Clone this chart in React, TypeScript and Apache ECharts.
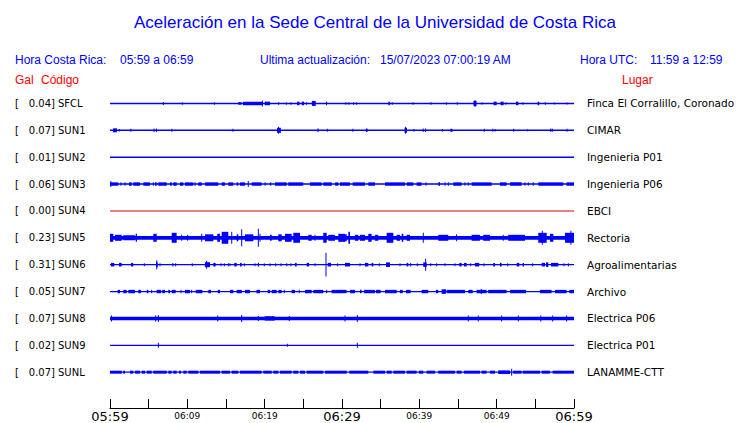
import React, { useEffect, useRef } from "react";
import * as echarts from "echarts";

const stations = ["SFCL", "SUN1", "SUN2", "SUN3", "SUN4", "SUN5", "SUN6", "SUN7", "SUN8", "SUN9", "SUNL"];
const galValues = [0.04, 0.07, 0.01, 0.06, 0.0, 0.23, 0.31, 0.05, 0.07, 0.02, 0.07];
const places = [
  "Finca El Corralillo, Coronado", "CIMAR", "Ingenieria P01", "Ingenieria P06", "EBCI", "Rectoria",
  "Agroalimentarias", "Archivo", "Electrica P06", "Electrica P01", "LANAMME-CTT",
];
// half-thickness of continuous trace (counts)
const baseAmp = [0.7, 0.7, 0.7, 0.7, 0.5, 1.9, 0.7, 0.6, 1.8, 0.6, 0.6];
// default half-height of bursts (counts)
const burstAmp = [1.3, 1.5, 1, 1.7, 1, 3, 1.8, 1.7, 3, 1.5, 1.5];
const traceColors = ["#0000ff", "#0000ff", "#0000ff", "#0000ff", "#dd0000", "#0000ff", "#0000ff", "#0000ff", "#0000ff", "#0000ff", "#0000ff"];

// minutes after 05:59 -> [start, end, amp?]
const sfclEvents = [[6.9,6.9,1.5],[9.35,9.35,1.2],[13.5,13.5,1.2],[16.6,17.0],[17.2,19.8,1.8],[19.7,19.7,3],[20.0,20.7,1.8],[21.8,21.8],[22.8,22.8],[23.4,23.4],[24.2,24.5,1.8],[24.8,25.1,1.8],[25.4,25.4],[26.1,26.6,2.5],[28.0,28.0,1.8],[30.5,30.5],[30.9,30.9],[31.5,31.5],[31.9,31.9],[36.0,36.2,1.8],[36.5,36.5],[39.2,39.2],[41.5,41.5],[43.5,43.5],[44.9,44.9],[47.0,47.4,2.5],[47.2,47.2,3.5],[48.1,48.1],[49.6,50.0,1.8],[50.5,50.9,1.8],[51.2,51.2],[52.5,52.8,1.8],[53.4,53.4],[55.3,55.5,1.8],[56.3,56.3],[57.5,57.5,1],[59.1,59.1,1]];
const sun1Events = [[0.4,0.9,2],[1.2,1.2,1.2],[2.7,2.7],[5.7,5.8,1.8],[6.0,6.1,1.8],[8.0,8.0],[15.9,15.9],[21.6,22.1,2.5],[21.8,21.8,3.5],[26.9,26.9,2],[28.1,28.1],[31.4,31.4],[33.1,33.3,1.8],[38.1,38.4,2.5],[38.2,38.2,3.5],[39.3,39.3,1.2],[40.5,40.5,1.8],[40.8,40.8,1.8],[43.0,43.0,1.2],[44.0,44.3],[48.4,48.4],[49.5,49.5],[49.8,49.8,1.2],[52.2,52.2],[54.0,54.0,1],[57.0,57.0,1.8],[57.2,57.2],[59.1,59.1]];
const sun2Events: number[][] = [];
const sun3Events = [[0,1.07],[0.1,0.1,3],[1.42,1.42],[1.94,1.94],[2.46,2.81],[3.01,3.88],[4.31,5.17],[5.6,5.6],[5.82,6.04],[6.25,7.33],[7.76,7.98],[8.18,8.62],[9.05,9.48],[9.7,10.77],[10.99,10.99],[11.42,11.86],[12.29,14.0],[14.44,14.87],[15.3,15.94],[16.38,16.59],[16.81,17.46],[17.88,17.88,3],[18.32,19.61],[20.04,20.04],[20.78,20.78],[21.33,22.85],[23.05,24.99],[25.86,27.37],[27.58,28.67],[29.1,29.52],[29.74,31.03],[31.38,32.97],[33.4,34.26],[35.56,38.14],[38.36,39.22],[39.65,40.29],[40.86,40.86],[42.45,42.67],[43.32,43.32],[43.75,43.75],[44.39,45.47],[45.9,45.9],[46.33,46.33],[46.76,49.35],[50.42,51.29],[51.72,53.23],[53.66,53.66],[54.08,54.08],[54.73,54.73],[55.38,58.61],[59.04,60]];
const sun4Events: number[][] = [];
const sun5Events = [[0,0.43,4],[0.65,1.51,3],[1.72,3.23,2.5],[3.32,3.49,4],[5.6,6.04,4],[7.98,8.62,5],[9.27,9.27,3],[10.04,10.04,3],[11.86,11.86,4],[12.28,13.36,3.5],[13.87,14.22,4],[14.44,15.3,6],[15.74,15.74,6],[16.38,16.59,3.5],[17.03,17.03,8.5],[17.46,18.53,3.5],[19.18,19.18,9],[19.4,19.4,4],[20.69,20.91,3],[21.76,22.2,3.5],[22.63,23.49,4],[23.7,24.57,5],[25.64,26.08,3],[26.51,26.51,3],[27.58,28.02,5],[28.23,29.09,3],[29.52,30.39,4],[29.74,30.61,3.5],[30.82,31.03,6],[31.68,32.11,3],[32.33,32.97,3],[33.4,33.83,4],[34.26,34.69,3],[35.77,36.64,5],[37.07,37.5,3],[37.72,37.93,4],[38.36,38.79,3],[40.51,40.51,5],[42.45,43.74,3],[44.82,44.82,3.5],[46.76,47.83,3],[48.26,49.13,3],[50.85,50.85,3],[51.5,53.66,3],[55.38,56.47,5],[55.9,55.9,7],[56.9,57.33,4],[58.83,60,5],[59.6,59.6,7]];
const sun6Events = [[0.13,0.56],[1.16,1.51],[2.72,3.01],[4.44,4.44,1.5],[5.95,6.17,2.5],[6.05,6.05,4.5],[6.47,6.47,1.5],[8.06,8.19],[8.49,8.49,1.5],[10.64,10.64,1.5],[12.28,12.93,2.5],[12.5,12.5,4],[13.36,13.66],[14.35,14.35,1.5],[14.78,14.78,1.5],[15.3,15.3,1.5],[15.52,15.52,1.5],[16.07,16.38],[16.81,17.03],[17.37,17.37,1.5],[18.75,18.75,1.5],[19.1,19.27],[19.95,19.95,1.5],[20.69,20.69,1.5],[21.42,21.42,1.5],[22.11,22.11,1.5],[22.85,22.85,1.5],[23.4,23.4,1.5],[23.92,24.14],[25.43,25.73],[26.51,26.51,1.5],[27.93,27.93,12],[28.15,28.58],[29.44,29.44,1.5],[30.39,31.03],[32.33,32.33,1.5],[32.97,33.4],[33.83,34.05],[34.82,34.82,1.5],[35.69,36.21,2.3],[37.5,37.5,1.5],[38.36,38.58],[38.88,39.0],[39.73,39.73,1.5],[40.51,40.94,2.3],[40.82,40.82,6],[41.47,41.47,1.5],[42.24,42.24,1.5],[43.32,43.32,1.5],[44.61,44.61,1.5],[45.17,45.47],[45.77,46.12],[46.64,46.64,1.5],[47.19,47.75],[48.35,48.35,1.5],[49.56,49.78],[50.42,50.64],[51.42,51.42,1.5],[52.59,52.93],[53.36,53.53],[54.65,54.65,1.5],[55.82,56.25],[56.38,56.68,2.3],[57.03,57.97],[58.7,58.7,1.5],[59.27,59.27,1.5]];
const sun7Events = [[0.99,1.29],[1.72,2.16],[2.37,3.23],[3.66,4.0],[4.75,4.96],[5.39,5.39],[6.04,6.6],[6.76,7.11],[7.54,7.76],[7.98,8.49],[9.18,9.18],[9.7,10.34],[10.56,10.56],[11.08,11.94],[12.71,13.06],[13.93,14.22],[15.52,15.95],[16.38,17.03],[17.46,18.1],[18.94,19.4],[20.39,20.69],[20.91,21.55],[21.77,22.2],[22.54,22.54],[23.49,23.92],[24.47,24.47],[25.22,26.08],[26.29,27.58],[28.02,28.02],[28.66,29.1],[29.1,30.6],[31.03,31.68],[32.33,32.54],[32.84,34.26],[34.39,35.0],[35.56,37.07],[37.5,37.85],[38.27,38.88],[40.3,41.16],[42.15,42.45],[42.88,43.44,2.3],[43.53,45.9],[46.33,46.9],[47.41,48.7],[48.0,48.0,2.5],[48.9,51.29],[51.72,53.8],[55.6,57.1],[57.54,59.04],[59.4,60]];
const sun8Events = [[0.2,0.2,3],[5.9,5.9,3],[6.25,6.25,3.5],[13.93,13.93,3],[17.03,17.03,3.5],[19.18,19.18,2.5],[20.0,21.3,2.2],[23.19,23.19,2.5],[30.39,30.39,3],[31.98,31.98,3.5],[46.33,46.33,3],[47.62,47.62,3],[50.64,50.64,3],[52.8,52.8,3],[55.7,55.7,3],[57.24,57.24,3],[59.05,59.05,3]];
const sun9Events = [[6.25,6.25,2.5],[22.93,22.93,1.5],[31.98,31.98,2.5]];
const sunlEvents = [[0,1.51],[1.72,1.94],[2.59,3.01],[3.23,3.88],[4.1,4.53],[4.75,5.39],[5.6,7.33],[7.54,7.97],[8.18,8.62],[8.92,9.18],[9.48,9.91],[10.13,11.42],[11.64,14.22],[14.44,15.52],[15.73,16.59],[16.81,19.61],[19.83,20.91],[21.12,21.77],[21.98,23.49],[23.7,24.35],[24.57,25.22],[25.43,27.58],[27.8,30.61],[30.95,33.4],[34.05,35.56],[35.78,36.43],[36.64,38.14],[38.36,39.65],[39.95,40.51],[40.94,42.02],[42.45,44.61],[44.83,45.47],[45.77,47.84],[48.05,48.7],[49.13,49.78],[50.2,51.72,1.8],[51.94,51.94,3.5],[52.15,53.23],[53.36,55.6],[55.82,56.89],[57.24,60]];
const stationEvents = [sfclEvents, sun1Events, sun2Events, sun3Events, sun4Events, sun5Events, sun6Events, sun7Events, sun8Events, sun9Events, sunlEvents];

const xTickLabels = ["05:59", "06:04", "06:09", "06:14", "06:19", "06:24", "06:29", "06:34", "06:39", "06:44", "06:49", "06:54", "06:59"];
const title = "Aceleración en la Sede Central de la Universidad de Costa Rica";
const localLabel = "Hora Costa Rica:";
const localRange = "05:59 a 06:59";
const updateLabel = "Ultima actualización:";
const updateValue = "15/07/2023 07:00:19 AM";
const utcLabel = "Hora UTC:";
const utcRange = "11:59 a 12:59";

const ROW_TOP = 306;
const ROW_STEP = 27;
const rowCenter = (i: number) => ROW_TOP - ROW_STEP * i;

export default function App() {
  const ref = useRef<HTMLDivElement>(null);
  useEffect(() => {
    if (!ref.current) return;
    const chart = echarts.init(ref.current, null, { renderer: "svg" });
    const traceData: number[][] = [];
    stations.forEach((_, i) => {
      traceData.push([i, 0, 60, baseAmp[i]]);
      stationEvents[i].forEach((e) => {
        traceData.push([i, e[0], e[1], e.length > 2 ? e[2] : burstAmp[i]]);
      });
    });
    const labelData = stations.map((_, i) => [i]);
    const sans = '"Liberation Sans", Arial, sans-serif';
    const dv = '"DejaVu Sans", sans-serif';
    const txt = (text: string, x: number, y: number, color: string, size: number, align = "left", family = sans) => ({
      type: "text",
      x,
      y,
      silent: true,
      style: {
        text,
        fill: color,
        fontSize: size,
        fontFamily: family,
        textAlign: align,
        textVerticalAlign: "middle",
        align,
        verticalAlign: "middle",
      },
    });
    chart.setOption({
      animation: false,
      backgroundColor: "#ffffff",
      grid: { left: 110, right: 166, top: 89.5, bottom: 13.5, containLabel: false },
      xAxis: {
        type: "value",
        min: 0,
        max: 60,
        interval: 5,
        splitLine: { show: false },
        axisLine: { show: true, lineStyle: { color: "#000", width: 1 } },
        axisTick: { show: true, inside: true, length: 9, lineStyle: { color: "#000", width: 1 } },
        axisLabel: {
          margin: 1,
          color: "#000",
          formatter: (v: number) => {
            const idx = Math.round(v / 5);
            if (idx % 2 !== 0) return "";
            const lab = xTickLabels[idx];
            return idx % 6 === 0 ? `{big|${lab}}` : `{small|${lab}}`;
          },
          rich: {
            big: { fontSize: 13, fontFamily: dv, lineHeight: 15, color: "#000" },
            small: { fontSize: 9, fontFamily: dv, lineHeight: 13, color: "#000" },
          },
        },
      },
      yAxis: { type: "value", min: 0, max: 320, show: false, splitLine: { show: false } },
      graphic: [
        txt(title, 375, 22, "#0000ff", 17, "center"),
        txt(localLabel, 15, 60, "#0000ff", 12),
        txt(localRange, 120, 60, "#0000ff", 12),
        txt(updateLabel, 260, 60, "#0000ff", 12),
        txt(updateValue, 380, 60, "#0000ff", 12),
        txt(utcLabel, 580, 60, "#0000ff", 12),
        txt(utcRange, 650, 60, "#0000ff", 12),
        txt("Gal", 15, 80, "#ff0000", 12),
        txt("Código", 41, 80, "#ff0000", 12),
        txt("Lugar", 622, 80, "#ff0000", 12),
      ],
      series: [
        {
          type: "custom",
          clip: false,
          data: traceData,
          dimensions: ["row", "start", "end", "amp"],
          encode: { x: [1, 2] },
          renderItem: (_p: any, api: any) => {
            const row = api.value(0);
            const c = rowCenter(row);
            const p0 = api.coord([api.value(1), c]);
            const p1 = api.coord([api.value(2), c]);
            const h = api.size([0, api.value(3)])[1];
            let x = p0[0];
            let w = p1[0] - p0[0];
            if (w < 1) {
              x -= 0.5;
              w = 1;
            }
            return {
              type: "rect",
              shape: { x, y: p0[1] - h, width: w, height: 2 * h },
              style: { fill: traceColors[row] },
            };
          },
        },
        {
          type: "custom",
          clip: false,
          data: labelData,
          dimensions: ["row"],
          renderItem: (_p: any, api: any) => {
            const row = api.value(0);
            const p0 = api.coord([0, rowCenter(row)]);
            const p1 = api.coord([60, rowCenter(row)]);
            const y = p0[1];
            return {
              type: "group",
              children: [
                txt("[", p0[0] - 95, y, "#000", 10, "left", dv),
                txt(`${galValues[row].toFixed(2)}]`, p0[0] - 55, y, "#000", 10, "right", dv),
                txt(stations[row], p0[0] - 52, y, "#000", 10, "left", dv),
                txt(places[row], p1[0] + 13, y, "#000", 10.5, "left", dv),
              ],
            };
          },
        },
      ],
    });
    return () => chart.dispose();
  }, []);
  return (
    <div
      ref={ref}
      style={{ position: "fixed", left: 0, top: 0, width: 740, height: 423, background: "#fff" }}
    />
  );
}
